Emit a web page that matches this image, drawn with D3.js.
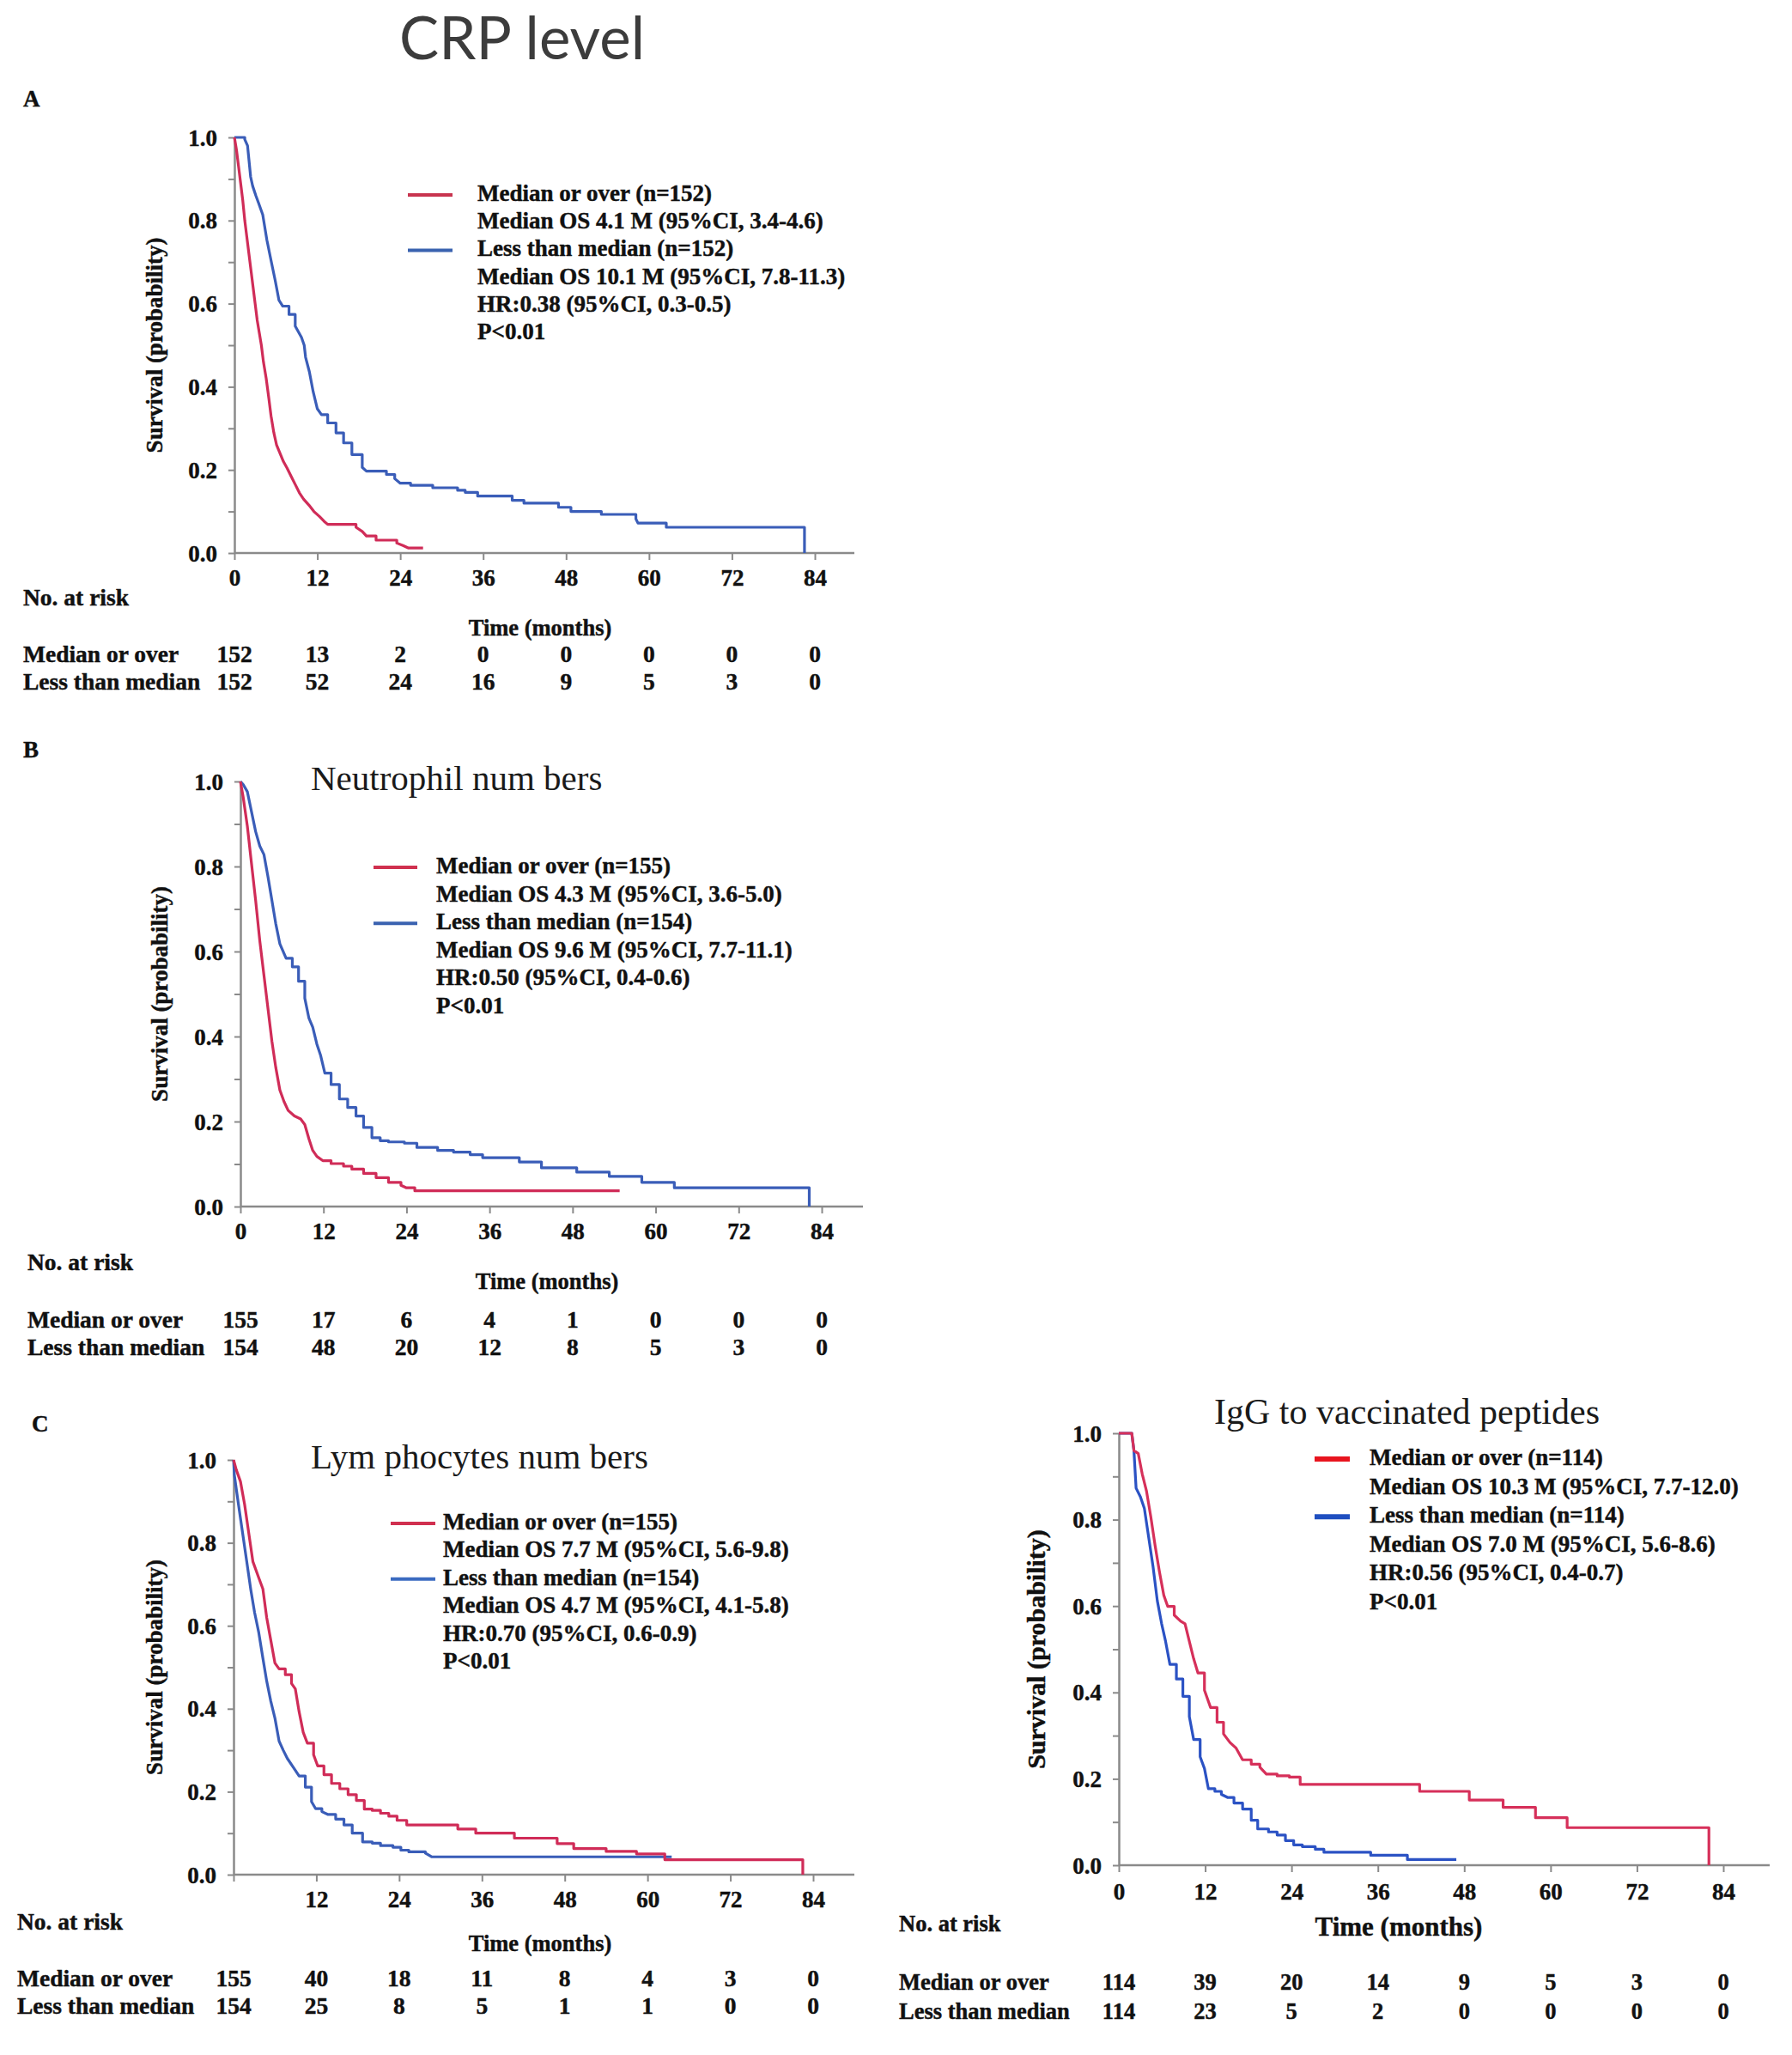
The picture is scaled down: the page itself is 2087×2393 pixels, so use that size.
<!DOCTYPE html>
<html><head><meta charset="utf-8">
<script src="https://cdn.jsdelivr.net/npm/d3@7"></script>
<style>body{margin:0;background:#fff} svg{display:block}
text.b{font-family:'Liberation Serif','Times New Roman',serif;font-weight:bold;fill:#111;stroke:#111;stroke-width:0.45px}
</style>
</head><body>
<svg id="chart" width="2087" height="2393"></svg>
<script>
// ---------------- DATA ----------------
const xTickValues = [0, 12, 24, 36, 48, 60, 72, 84];
const yTickValues = [0, 0.1, 0.2, 0.3, 0.4, 0.5, 0.6, 0.7, 0.8, 0.9, 1.0];
const yLabelValues = [0, 0.2, 0.4, 0.6, 0.8, 1.0];
const riskRowLabels = ["Median or over", "Less than median"];

// Panel A: CRP level
const crpHigh = [[0,1],[0.3,0.97],[0.6,0.93],[0.9,0.89],[1.2,0.85],[1.5,0.80],[1.8,0.76],[2.1,0.72],[2.4,0.68],[2.7,0.64],[3.0,0.60],[3.3,0.56],[3.6,0.53],[3.9,0.50],[4.2,0.46],[4.6,0.42],[5.0,0.37],[5.3,0.33],[5.7,0.29],[6.1,0.26],[6.6,0.24],[7.1,0.22],[7.6,0.205],[8.2,0.185],[8.8,0.165],[9.4,0.145],[10.0,0.13],[10.8,0.115],[11.5,0.10],[12.3,0.088],[13.0,0.076],[13.5,0.069],[17.6,0.062],[18.5,0.052],[19.1,0.041],[20.5,0.031],[23.5,0.024],[24.4,0.018],[25.2,0.012],[27.3,0.012]];
const crpLow = [[0,1],[1.5,0.995],[1.9,0.98],[2.35,0.905],[2.64,0.883],[3.1,0.86],[3.5,0.842],[4.1,0.814],[4.7,0.753],[5.3,0.704],[5.9,0.656],[6.45,0.608],[7.0,0.594],[7.9,0.574],[8.8,0.546],[9.7,0.519],[10.1,0.50],[10.3,0.471],[10.85,0.436],[11.4,0.388],[12.0,0.347],[12.6,0.333],[13.5,0.313],[14.7,0.289],[15.8,0.265],[17.0,0.237],[18.5,0.206],[19.1,0.197],[22.0,0.189],[23.2,0.179],[24.0,0.168],[25.5,0.163],[28.7,0.157],[32.3,0.151],[33.4,0.146],[35.2,0.137],[40.2,0.127],[41.9,0.12],[46.9,0.11],[48.7,0.10],[53.1,0.093],[58.1,0.082],[58.4,0.072],[62.5,0.062],[82.5,0]];
const crpLegend = ["Median or over (n=152)","Median OS 4.1 M (95%CI, 3.4-4.6)","Less than median (n=152)","Median OS 10.1 M (95%CI, 7.8-11.3)","HR:0.38 (95%CI, 0.3-0.5)","P<0.01"];
const crpRisk = [[152,13,2,0,0,0,0,0],[152,52,24,16,9,5,3,0]];

// Panel B: Neutrophil numbers
const neutHigh = [[0,1],[0.4,0.963],[1.0,0.895],[1.6,0.807],[2.2,0.72],[2.8,0.625],[3.4,0.544],[4.0,0.463],[4.55,0.389],[5.1,0.328],[5.7,0.274],[6.3,0.247],[6.9,0.226],[7.8,0.213],[8.7,0.206],[9.3,0.193],[9.9,0.159],[10.45,0.132],[11.05,0.118],[11.9,0.108],[13.1,0.101],[14.9,0.095],[16.1,0.088],[17.8,0.078],[19.6,0.068],[21.4,0.057],[23.2,0.05],[24.0,0.044],[25.2,0.037],[54.8,0.037]];
const neutLow = [[0,1],[0.4,0.993],[1.0,0.976],[1.6,0.929],[2.2,0.882],[2.8,0.848],[3.4,0.828],[4.0,0.774],[4.55,0.72],[5.1,0.666],[5.7,0.618],[6.6,0.584],[7.5,0.564],[8.4,0.53],[9.3,0.49],[9.9,0.443],[10.45,0.422],[11.05,0.382],[11.6,0.355],[12.2,0.314],[13.1,0.287],[14.3,0.253],[15.5,0.233],[16.7,0.213],[17.8,0.186],[19.0,0.162],[20.2,0.155],[21.4,0.152],[23.7,0.149],[25.5,0.139],[28.5,0.132],[30.8,0.128],[33.2,0.122],[35.0,0.115],[40.3,0.105],[43.5,0.091],[48.6,0.081],[53.3,0.071],[58.0,0.057],[62.7,0.044],[82.2,0]];
const neutLegend = ["Median or over (n=155)","Median OS 4.3 M (95%CI, 3.6-5.0)","Less than median (n=154)","Median OS 9.6 M (95%CI, 7.7-11.1)","HR:0.50 (95%CI, 0.4-0.6)","P<0.01"];
const neutRisk = [[155,17,6,4,1,0,0,0],[154,48,20,12,8,5,3,0]];

// Panel C: Lymphocytes numbers
const lymHigh = [[0,1],[0.4,0.976],[1.0,0.948],[1.6,0.893],[2.2,0.824],[2.8,0.755],[3.65,0.716],[4.25,0.689],[4.8,0.62],[5.4,0.565],[6.0,0.51],[6.6,0.496],[7.5,0.482],[8.4,0.461],[8.95,0.448],[9.5,0.393],[10.1,0.343],[10.7,0.317],[11.6,0.289],[12.2,0.262],[13.1,0.241],[14.2,0.22],[15.4,0.207],[16.6,0.193],[17.8,0.179],[18.95,0.158],[20.1,0.155],[21.3,0.148],[22.5,0.141],[23.7,0.131],[25.1,0.12],[32.5,0.11],[35.1,0.10],[40.7,0.088],[46.9,0.075],[49.3,0.063],[54.0,0.056],[58.4,0.05],[62.5,0.036],[82.5,0]];
const lymLow = [[0,1],[0.12,0.963],[0.7,0.894],[1.3,0.825],[1.9,0.756],[2.5,0.687],[3.05,0.632],[3.65,0.584],[4.25,0.522],[4.8,0.467],[5.4,0.418],[6.0,0.377],[6.6,0.322],[7.2,0.3],[7.8,0.28],[8.65,0.259],[9.5,0.238],[10.4,0.211],[11.3,0.176],[11.9,0.159],[12.8,0.152],[13.7,0.145],[14.8,0.134],[16.0,0.12],[17.2,0.1],[18.7,0.079],[20.1,0.076],[21.3,0.07],[23.1,0.066],[24.25,0.059],[25.4,0.055],[27.8,0.052],[28.7,0.043],[63.5,0.043]];
const lymLegend = ["Median or over (n=155)","Median OS 7.7 M (95%CI, 5.6-9.8)","Less than median (n=154)","Median OS 4.7 M (95%CI, 4.1-5.8)","HR:0.70 (95%CI, 0.6-0.9)","P<0.01"];
const lymRisk = [[155,40,18,11,8,4,3,0],[154,25,8,5,1,1,0,0]];

// Panel D: IgG to vaccinated peptides
const iggHigh = [[0,1],[1.8,1],[2.1,0.96],[2.7,0.953],[3.25,0.906],[3.85,0.866],[4.45,0.806],[5.05,0.739],[5.65,0.679],[6.25,0.625],[6.8,0.599],[7.7,0.579],[8.6,0.565],[9.2,0.559],[9.8,0.518],[10.4,0.478],[11.0,0.445],[11.9,0.405],[12.75,0.365],[13.65,0.331],[14.55,0.304],[15.45,0.284],[16.3,0.271],[17.2,0.244],[18.4,0.234],[19.6,0.227],[20.5,0.211],[22.0,0.207],[23.7,0.204],[25.2,0.187],[41.8,0.171],[48.7,0.151],[53.4,0.134],[57.9,0.11],[62.3,0.087],[82.0,0]];
const iggLow = [[0,1],[1.8,1],[2.1,0.96],[2.4,0.873],[3.0,0.853],[3.55,0.826],[4.15,0.759],[4.75,0.692],[5.35,0.612],[5.95,0.559],[6.5,0.518],[7.1,0.465],[8.0,0.431],[8.9,0.391],[9.8,0.344],[10.4,0.291],[11.3,0.251],[11.9,0.224],[12.45,0.177],[13.35,0.171],[14.25,0.164],[15.1,0.157],[16.0,0.144],[17.2,0.13],[18.4,0.104],[19.3,0.084],[20.8,0.077],[22.0,0.07],[23.15,0.057],[24.3,0.047],[25.5,0.043],[27.3,0.037],[28.5,0.03],[35.0,0.023],[40.1,0.013],[46.9,0.013]];
const iggLegend = ["Median or over (n=114)","Median OS 10.3 M (95%CI, 7.7-12.0)","Less than median (n=114)","Median OS 7.0 M (95%CI, 5.6-8.6)","HR:0.56 (95%CI, 0.4-0.7)","P<0.01"];
const iggRisk = [[114,39,20,14,9,5,3,0],[114,23,5,2,0,0,0,0]];

// ---------------- LAYOUT ----------------
const SERIF = "'Liberation Serif','Times New Roman',serif";
const panels = [
  {letter:"A", lx:27, ly:124, title:null,
   high:crpHigh, low:crpLow, legend:crpLegend, risk:crpRisk,
   x0:273, x84:949, xEnd:995, y0:644, y1:160, showZero:true,
   red:"#d02c58", blue:"#3a5db8", legRed:"#c8344f", legBlue:"#3a62b0", legW:4,
   legLine:[475,527], legX:556, legY:225, legDy:32.2,
   yTitleX:180, fs:27, yTitleFs:27, tickLabY:682,
   riskHeadY:705, timeX:629, timeY:740, timeFs:26.5, riskX:27, riskY:[771,803], riskFs:27.5},
  {letter:"B", lx:27, ly:882, title:"Neutrophil num bers", tx:362, ty:920, tfs:41,
   high:neutHigh, low:neutLow, legend:neutLegend, risk:neutRisk,
   x0:280, x84:957, xEnd:1005, y0:1405, y1:910, showZero:true,
   red:"#d02c58", blue:"#3a5db8", legRed:"#d0304f", legBlue:"#3a62b0", legW:4,
   legLine:[435,486], legX:508, legY:1008, legDy:32.6,
   yTitleX:186, fs:27, yTitleFs:27, tickLabY:1443,
   riskHeadY:1479, timeX:637, timeY:1501, timeFs:26.5, riskX:32, riskY:[1546,1578], riskFs:27.5},
  {letter:"C", lx:37, ly:1667, title:"Lym phocytes num bers", tx:362, ty:1710, tfs:41,
   high:lymHigh, low:lymLow, legend:lymLegend, risk:lymRisk,
   x0:272, x84:947, xEnd:995, y0:2183, y1:1700, showZero:false,
   red:"#d02c58", blue:"#3a5db8", legRed:"#d0304f", legBlue:"#3a6ac0", legW:4,
   legLine:[455,507], legX:516, legY:1772, legDy:32.4,
   yTitleX:180, fs:27, yTitleFs:27, tickLabY:2221,
   riskHeadY:2247, timeX:629, timeY:2272, timeFs:26.5, riskX:20, riskY:[2313,2345], riskFs:27.5},
  {letter:null, title:"IgG to vaccinated peptides", tx:1414, ty:1658, tfs:42,
   high:iggHigh, low:iggLow, legend:iggLegend, risk:iggRisk,
   x0:1303, x84:2007, xEnd:2061, y0:2172, y1:1669, showZero:true,
   red:"#d6305a", blue:"#2b52c4", legRed:"#e8141e", legBlue:"#1f4fc0", legW:6,
   legLine:[1531,1572], legX:1595, legY:1697, legDy:33.6,
   yTitleX:1206, fs:27, yTitleFs:30, tickLabY:2212,
   riskHeadY:2249, timeX:1629, timeY:2254, timeFs:31, riskX:1047, riskY:[2317,2351], riskFs:26.5}
];

// ---------------- DRAW ----------------
const svg = d3.select("#chart");
svg.append("rect").attr("width",2087).attr("height",2393).attr("fill","#fff");

svg.append("text").attr("x",608).attr("y",69).attr("text-anchor","middle")
  .attr("font-family","Lato,'Open Sans',sans-serif").attr("font-size",69)
  .attr("fill","#3c3c3c").text("CRP level");

const AXIS = "#8a8a8a";

// Kaplan-Meier path: dense event runs drawn as traced polyline, long gaps as steps
function kmPoints(data, gap) {
  const pts = [];
  data.forEach((d, i) => {
    if (i > 0) {
      const prev = data[i-1];
      if (d[0] - prev[0] > gap) pts.push([d[0], prev[1]]);
    }
    pts.push(d);
  });
  return pts;
}

function boldText(sel, x, y, size, str) {
  return sel.append("text").attr("class","b").attr("x",x).attr("y",y)
    .attr("font-size",size).text(str);
}

panels.forEach(p => {
  const g = svg.append("g");
  const x = d3.scaleLinear().domain([0,84]).range([p.x0, p.x84]);
  const y = d3.scaleLinear().domain([0,1]).range([p.y0, p.y1]);

  if (p.letter) boldText(g, p.lx, p.ly, 27, p.letter);
  if (p.title) g.append("text").attr("x",p.tx).attr("y",p.ty)
      .attr("font-family",SERIF).attr("font-size",p.tfs).attr("fill","#1a1a1a")
      .text(p.title);

  // y axis
  const ya = g.append("g").attr("transform",`translate(${p.x0},0)`)
    .call(d3.axisLeft(y).tickValues(yTickValues).tickSize(7).tickSizeOuter(0).tickPadding(13)
      .tickFormat(d => yLabelValues.some(v => Math.abs(v-d)<1e-9) ? d3.format(".1f")(d) : ""));
  // x axis
  const xa = g.append("g").attr("transform",`translate(0,${p.y0})`)
    .call(d3.axisBottom(x).tickValues(xTickValues).tickSize(8).tickSizeOuter(0).tickPadding(12)
      .tickFormat(d => (d===0 && !p.showZero) ? "" : d3.format("d")(d)));
  xa.select(".domain").attr("d",`M${p.x0},0H${p.xEnd}`);
  [ya, xa].forEach(a => {
    a.attr("font-family",null).attr("font-size",null);
    a.select(".domain").attr("stroke",AXIS).attr("stroke-width",2.5);
    a.selectAll(".tick line").attr("stroke",AXIS).attr("stroke-width",2);
    a.selectAll(".tick text").attr("class","b").attr("font-size",p.fs).attr("fill",null);
  });
  xa.selectAll(".tick text").attr("dy",null).attr("y",p.tickLabY - p.y0);
  ya.selectAll(".tick text").attr("dy","0.34em");

  // y title
  g.append("text").attr("class","b")
    .attr("transform",`translate(${p.yTitleX},${(p.y0+p.y1)/2}) rotate(-90)`)
    .attr("text-anchor","middle").attr("dy","0.35em")
    .attr("font-size",p.yTitleFs).text("Survival (probability)");

  // curves
  const line = d3.line().x(d => x(d[0])).y(d => y(d[1]));
  g.append("path").datum(kmPoints(p.low, 0.9)).attr("d",line).attr("fill","none")
    .attr("stroke",p.blue).attr("stroke-width",3.2).attr("stroke-linejoin","round");
  g.append("path").datum(kmPoints(p.high, 0.9)).attr("d",line).attr("fill","none")
    .attr("stroke",p.red).attr("stroke-width",3.2).attr("stroke-linejoin","round");

  // legend
  p.legend.forEach((t,i) => {
    boldText(g, p.legX, p.legY + i*p.legDy, p.fs, t).attr("dy","0.33em");
  });
  [[0,p.legRed],[2,p.legBlue]].forEach(([i,c]) => {
    const yy = p.legY + i*p.legDy + 2;
    g.append("line").attr("x1",p.legLine[0]).attr("x2",p.legLine[1])
      .attr("y1",yy).attr("y2",yy).attr("stroke",c).attr("stroke-width",p.legW);
  });

  // risk table
  boldText(g, p.riskX, p.riskHeadY, p.riskFs, "No. at risk");
  boldText(g, p.timeX, p.timeY, p.timeFs, "Time (months)").attr("text-anchor","middle");
  p.risk.forEach((row,ri) => {
    boldText(g, p.riskX, p.riskY[ri], p.riskFs, riskRowLabels[ri]);
    row.forEach((v,ci) => {
      boldText(g, x(xTickValues[ci]), p.riskY[ri], p.riskFs, v).attr("text-anchor","middle");
    });
  });
});
</script>
</body></html>
